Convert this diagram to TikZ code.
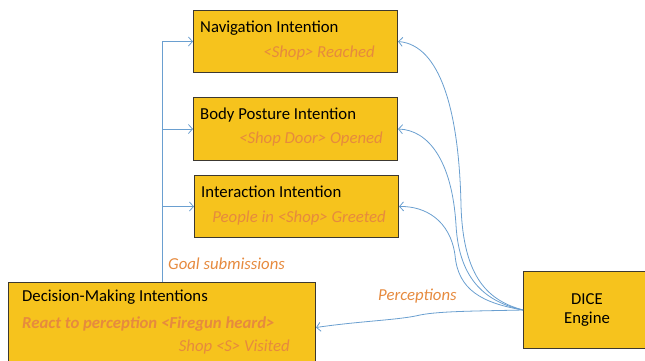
\documentclass[tikz,border=0pt]{standalone}
\usepackage{fontspec}
\setmainfont{Carlito}
\usetikzlibrary{arrows.meta,positioning}

\definecolor{boxfill}{HTML}{F6C31D}
\definecolor{goalorange}{HTML}{E68A3E}
\definecolor{linkblue}{HTML}{6A9FD0}
\definecolor{boxedge}{HTML}{3C3830}

\tikzset{
  box/.style={draw=boxedge, fill=boxfill, line width=1bp, anchor=north west, inner sep=0pt},
  title/.style={anchor=west, font=\fontsize{16.8}{18}\selectfont, inner sep=0pt},
  goal/.style={text=goalorange, font=\fontsize{16.8}{18}\selectfont\itshape, inner sep=0pt},
  link/.style={draw=linkblue, line width=0.8bp, -{Straight Barb[length=4bp,width=9bp]}}
}

\begin{document}
\begin{tikzpicture}[x=1bp, y=-1bp]
  \useasboundingbox (0,0) rectangle (645,360);

  % Intention boxes
  \node[box, minimum width=204bp, minimum height=62bp] (nav) at (193,10) {};
  \node[title] (navtitle) at (200,28) {Navigation Intention};
  \node[goal, anchor=east] (navgoal) at (375,53) {<Shop> Reached};

  \node[box, minimum width=204bp, minimum height=63bp] (posture) at (193,97) {};
  \node[title] (posturetitle) at (200,115) {Body Posture Intention};
  \node[goal, anchor=east] (posturegoal) at (383,139) {<Shop Door> Opened};

  \node[box, minimum width=204bp, minimum height=62bp] (interact) at (194,175) {};
  \node[title] (interacttitle) at (201,192) {Interaction Intention};
  \node[goal, anchor=east] (interactgoal) at (386,218) {People in <Shop> Greeted};

  % Decision making and engine
  \node[box, minimum width=307bp, minimum height=90bp] (decide) at (8,282) {};
  \node[title] (decidetitle) at (22,297) {Decision-Making Intentions};
  \node[goal, anchor=west, font=\fontsize{16.8}{18}\selectfont\bfseries\itshape] (decidereact) at (22,324) {React to perception <Firegun heard>};
  \node[goal, anchor=east] (decidevisit) at (290,347) {Shop <S> Visited};

  \node[box, minimum width=128bp, minimum height=77bp] (dice) at (523,271) {};
  \node[align=center, font=\fontsize{16.8}{19}\selectfont, inner sep=0pt] (dicetext) at (587,310) {DICE\\Engine};

  % Goal submissions
  \coordinate (fork) at (162,0);
  \draw[link] (decide.north -| fork) |- (nav.west);
  \draw[link] (fork |- posture.west) -- (posture.west);
  \draw[link] (fork |- interact.west) -- (interact.west);
  \node[goal, anchor=west] (goallabel) at (168,264) {Goal submissions};

  % Perceptions
  \draw[link] (dice.west) .. controls (490,301) and (463,280) .. (461,205)
    .. controls (459,110) and (440,45) .. (nav.east);
  \draw[link] (dice.west) .. controls (486,302) and (459,280) .. (456,225)
    .. controls (452,160) and (428,130) .. (posture.east);
  \draw[link] (dice.west) .. controls (482,303) and (458,290) .. (455,255)
    .. controls (450,220) and (425,206) .. (interact.east);
  \draw[link] (dice.west) .. controls (480,311) and (440,311) .. (420,315)
    .. controls (400,320) and (360,321) .. (decide.east);
  \node[goal, anchor=west] (perclabel) at (378,296) {Perceptions};
\end{tikzpicture}
\end{document}
